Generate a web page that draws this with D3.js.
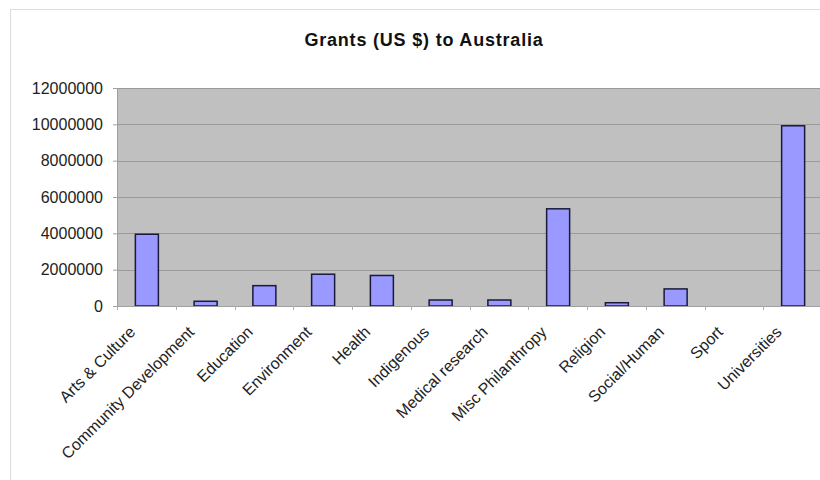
<!DOCTYPE html>
<html>
<head>
<meta charset="utf-8">
<script src="https://cdn.jsdelivr.net/npm/d3@7/dist/d3.min.js"></script>
<style>
  html, body { margin: 0; padding: 0; background: #fff; }
  svg { display: block; font-family: "Liberation Sans", Arial, sans-serif; }
</style>
</head>
<body>
<svg id="chart" width="820" height="480"></svg>
<script>
// Grant totals by sector
const categories = ["Arts & Culture", "Community Development", "Education", "Environment", "Health",
  "Indigenous", "Medical research", "Misc Philanthropy", "Religion", "Social/Human", "Sport", "Universities"];
const grants = [3950000, 260000, 1120000, 1750000, 1680000, 330000, 330000, 5350000, 180000, 940000, 0, 9920000];
const yTicks = [0, 2000000, 4000000, 6000000, 8000000, 10000000, 12000000];

const svg = d3.select("#chart");
const W = 820, H = 480;
const m = { left: 117, right: -2, top: 88, bottom: 174 };

// outer chart frame
svg.append("rect").attr("x", 10.5).attr("y", 9.5).attr("width", W).attr("height", H)
  .attr("fill", "#fff").attr("stroke", "#dcdcdc");

svg.append("text").attr("x", 424).attr("y", 46).attr("text-anchor", "middle")
  .attr("font-size", 18).attr("font-weight", "bold").attr("fill", "#111")
  .attr("letter-spacing", 0.8)
  .text("Grants (US $) to Australia");

const x = d3.scaleBand().domain(categories).range([m.left, W - m.right]).paddingInner(0).paddingOuter(0);
const y = d3.scaleLinear().domain([0, 12000000]).range([H - m.bottom, m.top]);

// plot area
svg.append("rect").attr("x", m.left).attr("y", m.top)
  .attr("width", W - m.right - m.left).attr("height", y(0) - m.top)
  .attr("fill", "#c0c0c0");

// gridlines
svg.append("g").selectAll("line").data(yTicks.slice(1)).join("line")
  .attr("x1", m.left).attr("x2", W - m.right)
  .attr("y1", d => Math.round(y(d)) + 0.5).attr("y2", d => Math.round(y(d)) + 0.5)
  .attr("stroke", "#9a9a9a").attr("stroke-width", 1);

// y axis
const yAxis = svg.append("g").attr("transform", `translate(${m.left},0)`)
  .call(d3.axisLeft(y).tickValues(yTicks).tickFormat(d3.format("d")).tickSize(4).tickPadding(10));
yAxis.select(".domain").attr("stroke", "#a0a0a0");
yAxis.selectAll(".tick line").attr("stroke", "#a0a0a0");
yAxis.selectAll("text").attr("font-size", 16).attr("fill", "#222").attr("font-family", "Liberation Sans, Arial, sans-serif");

// bars
const bw = 23;
svg.append("g").selectAll("rect").data(categories).join("rect")
  .attr("x", d => x(d) + x.bandwidth() / 2 - bw / 2 + 0.5)
  .attr("y", (d, i) => y(grants[i]))
  .attr("width", bw)
  .attr("height", (d, i) => y(0) - y(grants[i]))
  .attr("fill", "#9999ff").attr("stroke", "#1a1a3a").attr("stroke-width", 1.5)
  .attr("display", (d, i) => grants[i] > 0 ? null : "none");

// x axis with ticks at band boundaries
const xg = svg.append("g").attr("transform", `translate(0,${y(0)})`);
xg.append("line").attr("x1", m.left).attr("x2", W - m.right).attr("y1", 0.5).attr("y2", 0.5).attr("stroke", "#a0a0a0");
xg.selectAll("line.tk").data(categories).join("line").attr("class", "tk")
  .attr("x1", d => Math.round(x(d)) + 0.5).attr("x2", d => Math.round(x(d)) + 0.5)
  .attr("y1", 0).attr("y2", 4).attr("stroke", "#b0b0b0");

xg.selectAll("text").data(categories).join("text")
  .attr("text-anchor", "end").attr("font-size", 16).attr("fill", "#222")
  .attr("transform", d => `translate(${x(d) + x.bandwidth() / 2 - 10},${27}) rotate(-45)`)
  .text(d => d);
</script>
</body>
</html>
